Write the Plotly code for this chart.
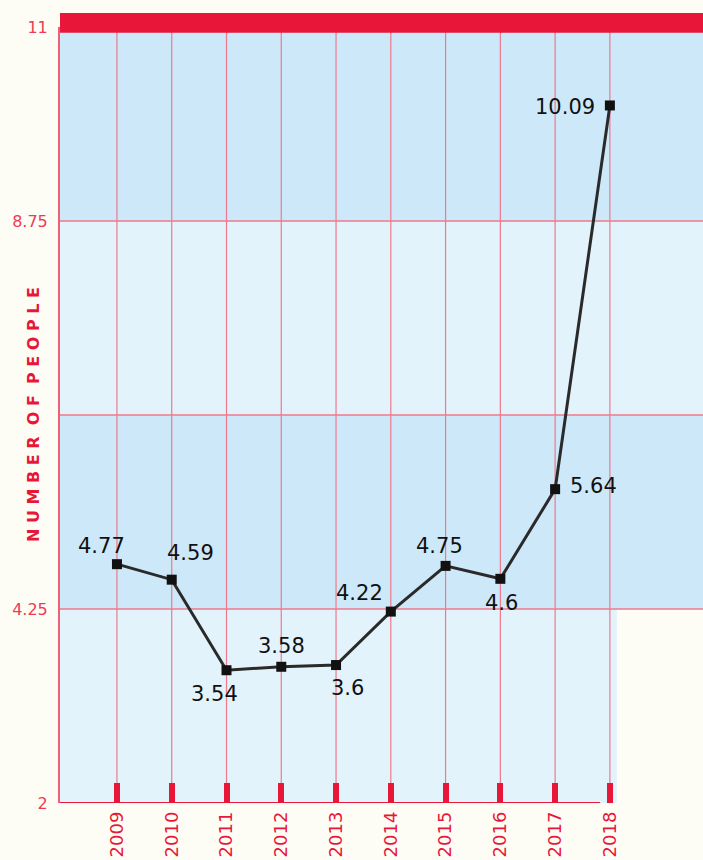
import plotly.graph_objects as go

years = [2009, 2010, 2011, 2012, 2013, 2014, 2015, 2016, 2017, 2018]
values = [4.77, 4.59, 3.54, 3.58, 3.6, 4.22, 4.75, 4.6, 5.64, 10.09]
labels = ["4.77", "4.59", "3.54", "3.58", "3.6", "4.22", "4.75", "4.6", "5.64", "10.09"]
# pixel offsets of each value label from its point (dx right, dy down)
label_dx = [-15, 19, -12, 0, 11, -31, -6, 1, 38, -45]
label_dy = [-18, -27, 24, -21, 23, -19, -20, 24, -3, 2]
y_tickvals = [2, 4.25, 6.5, 8.75, 11]
y_ticktext = ["2", "4.25", "", "8.75", "11"]
hgrid = [4.25, 6.5, 8.75]
bands = [(2, 4.25, "#e3f3fc"), (4.25, 6.5, "#cde8f8"), (6.5, 8.75, "#e3f3fc"), (8.75, 11, "#cde8f8")]
y_title = "N U M B E R  O F  P E O P L E"

RED = "#e8173a"
GRID = "#f0788c"

fig = go.Figure()
fig.add_trace(go.Scatter(
    x=years, y=values, mode="lines+markers",
    line=dict(color="#2a2a2a", width=3),
    marker=dict(symbol="square", size=10, color="#111111"),
    cliponaxis=False, showlegend=False,
))

shapes = []
for i, (y0, y1, c) in enumerate(bands):
    shapes.append(dict(type="rect", xref="paper", x0=0, x1=(0.866 if i == 0 else 1),
                       yref="y", y0=y0, y1=y1, fillcolor=c, line_width=0, layer="below"))
for g in hgrid:
    shapes.append(dict(type="line", xref="paper", x0=0, x1=1, yref="y", y0=g, y1=g,
                       line=dict(color=GRID, width=1.5), layer="between"))
for yr in years:
    shapes.append(dict(type="line", xref="x", x0=yr, x1=yr, yref="paper", y0=0, y1=1,
                       line=dict(color=GRID, width=1.2), layer="between"))
# top red bar
shapes.append(dict(type="rect", xref="paper", x0=0, x1=1, yref="paper", y0=0.9925, y1=1.018,
                   fillcolor=RED, line_width=0, layer="above"))
# bottom axis line
shapes.append(dict(type="line", xref="paper", x0=0, x1=0.84, yref="y", y0=2, y1=2,
                   line=dict(color=RED, width=2), layer="above"))

annotations = [dict(text=y_title, xref="paper", yref="paper", x=0, y=0.5,
                    xanchor="center", yanchor="middle", xshift=-27, textangle=-90,
                    showarrow=False,
                    font=dict(family="DejaVu Sans", size=16, color=RED, weight="bold"))]
for xv, yv, t, dx, dy in zip(years, values, labels, label_dx, label_dy):
    annotations.append(dict(x=xv, y=yv, xref="x", yref="y", text=t, showarrow=False,
                            xanchor="center", yanchor="middle", xshift=dx, yshift=-dy,
                            font=dict(family="DejaVu Sans", size=21, color="#111111")))

fig.update_layout(
    width=703, height=860,
    margin=dict(l=60, r=0, t=27, b=57),
    paper_bgcolor="#fdfdf5", plot_bgcolor="rgba(0,0,0,0)",
    shapes=shapes,
    annotations=annotations,
    xaxis=dict(
        range=[2007.96, 2019.7], tickvals=years, ticktext=[str(y) for y in years],
        tickangle=-90, tickfont=dict(family="DejaVu Sans", size=18, color=RED),
        showgrid=False,
        ticks="inside", ticklen=20, tickwidth=6, tickcolor=RED,
        showline=False, zeroline=False, ticklabelstandoff=4, automargin=False,
    ),
    yaxis=dict(
        range=[2, 11], tickvals=y_tickvals, ticktext=y_ticktext,
        tickfont=dict(family="DejaVu Sans", size=16, color="#ee3a55"),
        showgrid=False,
        showline=True, linecolor="#ee6075", linewidth=2,
        zeroline=False, ticks="", ticklabelstandoff=7, automargin=False,
    ),
)

fig.write_html("out.html")
